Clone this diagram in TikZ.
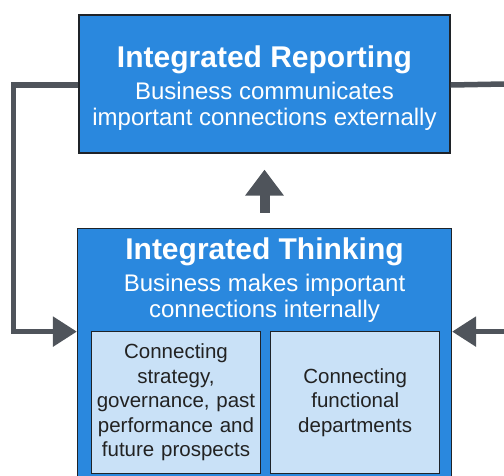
\documentclass[tikz,border=0pt]{standalone}
\usepackage{fontspec}
\setmainfont{Liberation Sans}
\usepackage{xcolor}
\usetikzlibrary{shapes,arrows,arrows.meta,positioning,calc}

\definecolor{boxblue}{HTML}{2A88DE}
\definecolor{paleblue}{HTML}{C9E1F7}
\definecolor{arrowgray}{HTML}{4F545B}
\definecolor{edgegray}{HTML}{1F2328}
\definecolor{textdark}{HTML}{222222}

\begin{document}
\begin{tikzpicture}[x=1pt, y=-1pt, every node/.style={font=\fontsize{24}{26}\selectfont}]
\useasboundingbox (0,0) rectangle (504,475);
\clip (0,0) rectangle (504,475);

\node[rectangle, draw=edgegray, fill=boxblue, text=white, line width=1.2pt, minimum width=371pt, minimum height=138pt, align=center] (reporting) at (264.5,84) {{\fontsize{30}{32}\selectfont\bfseries\rule{0pt}{30pt}Integrated Reporting}\\[6pt] Business communicates\\ important connections externally};
\node[rectangle, draw=edgegray, fill=boxblue, line width=1.2pt, minimum width=374pt, minimum height=260pt, below=74pt of reporting] (thinking) {};
\node[text=white, align=center, inner sep=0pt, below=9.5pt of thinking.north] (thinkingtxt) {{\fontsize{30}{32}\selectfont\bfseries Integrated Thinking}\\[6pt] Business makes important\\ connections internally};

\node[rectangle, draw=edgegray, fill=paleblue, text=textdark, line width=1.2pt, minimum width=169pt, minimum height=142pt, inner sep=2pt, text width=163pt, align=center, font=\fontsize{20.5}{24.5}\selectfont, anchor=north west] (strat) at ($(thinking.north west)+(14,103)$) {Connecting\\ strategy,\\ governance, past\\ performance and\\ future prospects};
\node[rectangle, draw=edgegray, fill=paleblue, text=textdark, line width=1.2pt, minimum width=169pt, minimum height=142pt, inner sep=2pt, text width=163pt, align=center, font=\fontsize{20.5}{24.5}\selectfont, right=9pt of strat] (func) {Connecting\\ functional\\ departments};

% connectors
\coordinate (redge) at (504,85);
\coordinate (lowin) at ($(strat.north)+(0,1)$);
\draw[arrowgray, line width=10pt, -{Triangle[width=37pt,length=26pt]}, shorten <=15pt, shorten >=16pt] (thinking.north) -- (reporting.south);
\draw[arrowgray, line width=5.5pt, -{Triangle[width=29pt,length=24pt]}] ([yshift=-1pt]reporting.west) -- ++(-65,0) |- (lowin -| thinking.west);
\draw[arrowgray, line width=5.5pt] ([yshift=-1pt]reporting.east) -- (reporting.east -| redge);
\draw[arrowgray, line width=5.5pt, -{Triangle[width=29pt,length=24pt]}] (redge |- lowin) -- (lowin -| thinking.east);
\end{tikzpicture}
\end{document}
